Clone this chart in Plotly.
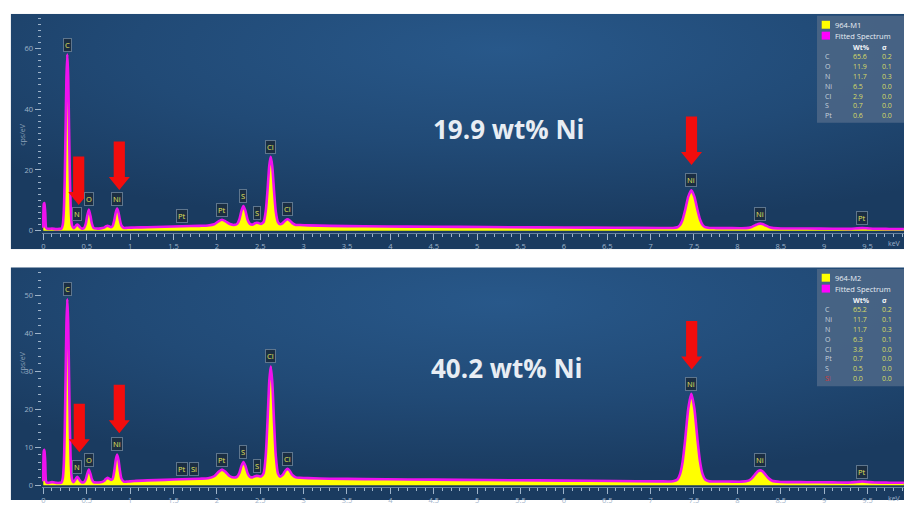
import base64
import plotly.graph_objects as go

W, H = 904, 505

# ---------------- data ----------------
energy_kev = [0.000, 0.006, 0.013, 0.022, 0.035, 0.06, 0.10, 0.15, 0.19, 0.21, 0.225, 0.237, 0.247, 0.257,
              0.267, 0.277, 0.287, 0.297, 0.307, 0.317, 0.33, 0.35, 0.37, 0.38, 0.392, 0.404, 0.415, 0.44,
              0.47, 0.49, 0.505, 0.525, 0.545, 0.56, 0.58, 0.61, 0.66, 0.70, 0.72, 0.74, 0.76, 0.78, 0.80,
              0.82, 0.835, 0.851, 0.867, 0.882, 0.90, 0.93, 0.97, 1.05, 1.2, 1.4, 1.6, 1.8, 1.9, 1.97, 2.02,
              2.06, 2.10, 2.15, 2.20, 2.235, 2.26, 2.285, 2.307, 2.33, 2.355, 2.38, 2.41, 2.44, 2.46, 2.48,
              2.51, 2.54, 2.565, 2.585, 2.605, 2.622, 2.64, 2.66, 2.68, 2.705, 2.73, 2.76, 2.79, 2.815, 2.84,
              2.87, 2.91, 2.96, 3.05, 3.3, 3.7, 4.2, 4.8, 5.4, 6.0, 6.6, 7.1, 7.26, 7.31, 7.34, 7.37, 7.40,
              7.435, 7.47, 7.505, 7.54, 7.57, 7.60, 7.63, 7.68, 7.75, 7.9, 8.05, 8.13, 8.17, 8.21, 8.24,
              8.264, 8.29, 8.32, 8.36, 8.40, 8.5, 8.8, 9.1, 9.3, 9.38, 9.44, 9.50, 9.58, 9.75, 9.92]

counts_m1 = [1.0, 8.8, 9.1, 6.0, 0.8, 0.6, 0.7, 0.5, 0.6, 0.7, 2.0, 6.8, 17.0, 33.5,
             50.6, 58.0, 50.6, 33.5, 17.0, 6.8, 1.8, 0.85, 1.4, 1.8, 2.05, 1.8, 1.4, 0.73,
             0.9, 2.3, 4.7, 7.0, 4.7, 2.3, 0.9, 0.7, 0.75, 1.0, 1.4, 1.65, 1.4, 1.13, 1.6,
             3.65, 6.0, 7.3, 6.0, 3.65, 1.7, 0.9, 0.95, 1.05, 1.15, 1.3, 1.45, 1.6, 1.7, 2.1, 3.1,
             3.6, 3.1, 2.2, 1.9, 2.25, 3.7, 6.6, 8.1, 6.5, 3.6, 2.3, 2.0, 2.45, 2.6, 2.5,
             2.25, 2.85, 6.6, 13.4, 21.4, 24.3, 21.0, 13.0, 6.3, 2.8, 2.1, 2.5, 3.35, 3.75, 3.35,
             2.5, 1.9, 1.85, 1.75, 1.6, 1.45, 1.35, 1.25, 1.15, 1.05, 0.95, 0.9, 0.9, 1.15, 1.9, 3.7, 6.9,
             11.2, 13.3, 11.2, 6.9, 3.7, 1.9, 1.15, 0.9, 0.86, 0.84, 0.82, 0.93, 1.27, 1.84, 2.22,
             2.33, 2.2, 1.81, 1.25, 0.92, 0.74, 0.7, 0.65, 0.6, 0.76, 0.85, 0.76, 0.62, 0.58, 0.56]

counts_m2 = [1.0, 9.0, 9.3, 6.2, 0.8, 0.6, 0.8, 0.6, 0.6, 0.7, 1.8, 5.8, 14.4, 28.4,
             42.7, 49.0, 42.7, 28.4, 14.4, 5.8, 1.6, 0.8, 1.45, 1.9, 2.2, 1.9, 1.45, 0.75,
             0.8, 1.55, 2.85, 4.1, 2.85, 1.55, 0.8, 0.7, 0.75, 1.1, 1.6, 1.95, 1.7, 1.4, 1.7,
             4.0, 6.65, 8.1, 6.65, 4.0, 1.75, 0.9, 0.95, 1.1, 1.25, 1.4, 1.55, 1.7, 1.8, 2.35, 3.5,
             4.1, 3.5, 2.35, 2.0, 2.25, 3.2, 5.1, 6.1, 5.05, 3.15, 2.2, 2.05, 2.35, 2.45, 2.4,
             2.3, 3.15, 8.05, 17.05, 27.4, 31.3, 27.0, 16.5, 7.7, 3.05, 2.25, 2.7, 3.8, 4.3, 3.8,
             2.7, 2.05, 1.95, 1.85, 1.7, 1.6, 1.5, 1.4, 1.3, 1.2, 1.1, 1.0, 1.03, 1.5, 2.9, 6.2, 12.2,
             20.2, 24.1, 20.2, 12.2, 6.2, 2.9, 1.5, 1.0, 0.97, 0.95, 0.92, 1.2, 1.85, 2.95, 3.7,
             3.9, 3.65, 2.9, 1.8, 1.17, 0.85, 0.78, 0.72, 0.68, 0.85, 0.95, 0.85, 0.7, 0.65, 0.62]

label_text_m1 = ["C", "N", "O", "Ni", "Pt", "Pt", "S", "S", "Cl", "Cl", "Ni", "Ni", "Pt"]
label_x_m1 = [0.277, 0.392, 0.525, 0.851, 1.60, 2.06, 2.307, 2.46, 2.622, 2.815, 7.47, 8.264, 9.44]
label_y_m1 = [58.0, 2.05, 7.0, 7.3, 1.45, 3.6, 8.1, 2.6, 24.3, 3.75, 13.3, 2.33, 0.85]

label_text_m2 = ["C", "N", "O", "Ni", "Pt", "Si", "Pt", "S", "S", "Cl", "Cl", "Ni", "Ni", "Pt"]
label_x_m2 = [0.277, 0.392, 0.525, 0.851, 1.60, 1.74, 2.06, 2.307, 2.46, 2.622, 2.815, 7.47, 8.264, 9.44]
label_y_m2 = [49.0, 2.2, 4.1, 8.1, 1.55, 1.65, 4.1, 6.1, 2.45, 31.3, 4.3, 24.1, 3.9, 0.95]

arrow_x_m1 = [0.408, 0.876, 7.472]
arrow_y_m1 = [8.5, 13.4, 21.6]
arrow_x_m2 = [0.415, 0.876, 7.474]
arrow_y_m2 = [8.7, 13.7, 30.5]

table_el_m1 = ["C", "O", "N", "Ni", "Cl", "S", "Pt"]
table_wt_m1 = ["65.6", "11.9", "11.7", "6.5", "2.9", "0.7", "0.6"]
table_sd_m1 = ["0.2", "0.1", "0.3", "0.0", "0.0", "0.0", "0.0"]

table_el_m2 = ["C", "Ni", "N", "O", "Cl", "Pt", "S", "Si"]
table_wt_m2 = ["65.2", "11.7", "11.7", "6.3", "3.8", "0.7", "0.5", "0.0"]
table_sd_m2 = ["0.2", "0.1", "0.3", "0.1", "0.0", "0.0", "0.0", "0.0"]

x_ticks = [0, 0.5, 1, 1.5, 2, 2.5, 3, 3.5, 4, 4.5, 5, 5.5, 6, 6.5, 7, 7.5, 8, 8.5, 9, 9.5]
x_tick_text = ["0", "0.5", "1", "1.5", "2", "2.5", "3", "3.5", "4", "4.5", "5", "5.5",
               "6", "6.5", "7", "7.5", "8", "8.5", "9", "9.5"]

# ---------------- styling helpers ----------------
def px(x):
    return x / W

def py(y):
    return 1 - y / H

TICK_C = "#9fb4ca"
FONT = "Open Sans"

svg = ("<svg xmlns='http://www.w3.org/2000/svg' width='894' height='238' preserveAspectRatio='none'>"
       "<defs><radialGradient id='g' cx='0.55' cy='0.15' r='0.75'>"
       "<stop offset='0' stop-color='#28588a'/><stop offset='0.55' stop-color='#214a76'/>"
       "<stop offset='1' stop-color='#1a3b60'/></radialGradient></defs>"
       "<rect width='894' height='238' fill='url(#g)'/></svg>")
bg_src = "data:image/svg+xml;base64," + base64.b64encode(svg.encode()).decode()

fig = go.Figure()

panels = [
    dict(xa="x", ya="y", counts=counts_m1, name="964-M1", top=14, bottom=251.7, ptop=14, pbot=235,
         y0px=233, ppu=3.067, yticks=[0, 20, 40, 60], lab=(label_text_m1, label_x_m1, label_y_m1),
         arr=(arrow_x_m1, arrow_y_m1), title="19.9 wt% Ni", tpos=(509, 130),
         tab=(table_el_m1, table_wt_m1, table_sd_m1), legtop=16, legbot=124, rows0=25),
    dict(xa="x2", ya="y2", counts=counts_m2, name="964-M2", top=270, bottom=505, ptop=270, pbot=492,
         y0px=490, ppu=3.83, yticks=[0, 10, 20, 30, 40, 50], lab=(label_text_m2, label_x_m2, label_y_m2),
         arr=(arrow_x_m2, arrow_y_m2), title="40.2 wt% Ni", tpos=(507, 371.7),
         tab=(table_el_m2, table_wt_m2, table_sd_m2), legtop=271.7, legbot=390, rows0=280.5),
]

x_left_px, x_right_px = 41.6, 904
kev_px = 86.75
zero_px = 43.3
xr = [(x_left_px - zero_px) / kev_px, (x_right_px - zero_px) / kev_px]

images, shapes, annotations = [], [], []

for i, p in enumerate(panels):
    xa, ya = p["xa"], p["ya"]
    fig.add_trace(go.Scatter(x=energy_kev, y=p["counts"], mode="lines", line=dict(color="#ffff00", width=1, shape="spline", smoothing=0.6),
                             fill="tozeroy", fillcolor="#ffff00", xaxis=xa, yaxis=ya, showlegend=False, hoverinfo="skip"))
    fig.add_trace(go.Scatter(x=energy_kev, y=p["counts"], mode="lines", line=dict(color="#ee11ee", width=2.6, shape="spline", smoothing=0.6),
                             xaxis=xa, yaxis=ya, showlegend=False, hoverinfo="skip"))

    images.append(dict(source=bg_src, xref="paper", yref="paper", x=px(10.7), y=py(p["top"]),
                       sizex=px(W - 10.7), sizey=(p["bottom"] - p["top"]) / H, xanchor="left", yanchor="top",
                       sizing="stretch", layer="below"))

    yr = [(p["y0px"] - p["pbot"]) / p["ppu"], (p["y0px"] - p["ptop"]) / p["ppu"]]
    xkey = "xaxis" if i == 0 else "xaxis2"
    ykey = "yaxis" if i == 0 else "yaxis2"
    fig.layout[xkey] = dict(domain=[px(x_left_px), 1], range=xr, anchor=ya, tickmode="array", tickvals=x_ticks,
                            ticktext=x_tick_text, ticks="outside", ticklen=6, tickcolor=TICK_C, tickwidth=1,
                            showgrid=False, zeroline=False, showline=True, linecolor="rgba(159,180,202,0.6)",
                            linewidth=1, tickfont=dict(family=FONT, size=7.5, color=TICK_C),
                            minor=dict(dtick=0.1, tick0=0, ticks="outside", ticklen=3, tickcolor=TICK_C, showgrid=False),
                            fixedrange=True)
    fig.layout[ykey] = dict(domain=[py(p["pbot"]), py(p["ptop"])], range=yr, anchor=xa, tickmode="array",
                            tickvals=p["yticks"], ticks="outside", ticklen=6, tickcolor=TICK_C, tickwidth=1,
                            showgrid=False, zeroline=False, showline=False,
                            tickfont=dict(family=FONT, size=7.5, color=TICK_C),
                            minor=dict(dtick=2, tick0=0, ticks="outside", ticklen=3, tickcolor=TICK_C, showgrid=False),
                            fixedrange=True)

    # element labels
    for t, lx, ly in zip(*p["lab"]):
        annotations.append(dict(x=lx, y=ly, xref=xa, yref=ya, text=t, showarrow=False, yanchor="bottom",
                                yshift=3, font=dict(family=FONT, size=7.5, color="#e3e35c"),
                                bgcolor="#1b2e42", bordercolor="#5f768d", borderwidth=1, borderpad=1))

    # red arrows
    for ax_, ay_ in zip(*p["arr"]):
        shapes.append(dict(type="path", xref=xa, yref=ya, xsizemode="pixel", ysizemode="pixel",
                           xanchor=ax_, yanchor=ay_,
                           path="M 0,0 L -10.5,13 L -5.6,13 L -5.6,48.5 L 5.6,48.5 L 5.6,13 L 10.5,13 Z",
                           fillcolor="#f20d0d", line=dict(width=0), layer="above"))

    # big caption
    annotations.append(dict(x=px(p["tpos"][0]), y=py(p["tpos"][1]), xref="paper", yref="paper", text=p["title"],
                            showarrow=False, xanchor="center", yanchor="middle",
                            font=dict(family=FONT, size=26, color="#e8edf3", weight="bold")))
    # y title
    mid = (p["ptop"] + p["y0px"]) / 2
    annotations.append(dict(x=px(16), y=py(mid), xref="paper", yref="paper", text="cps/eV", textangle=-90,
                            showarrow=False, font=dict(family=FONT, size=7, color="#8ea3ba")))
    # keV
    annotations.append(dict(x=px(903), y=py(p["pbot"] + 11), xref="paper", yref="paper", text="keV",
                            showarrow=False, xanchor="right", yanchor="middle",
                            font=dict(family=FONT, size=7, color=TICK_C)))

    # legend / table box
    shapes.append(dict(type="rect", xref="paper", yref="paper", x0=px(817), x1=1.0, y0=py(p["legbot"]),
                       y1=py(p["legtop"]), fillcolor="#4a6585", line=dict(width=0), layer="above", opacity=0.92))
    r0 = p["rows0"]
    shapes.append(dict(type="rect", xref="paper", yref="paper", x0=px(821.7), x1=px(830), y0=py(r0 + 4),
                       y1=py(r0 - 4), fillcolor="#ffff00", line=dict(width=0), layer="above"))
    shapes.append(dict(type="rect", xref="paper", yref="paper", x0=px(821.7), x1=px(830), y0=py(r0 + 15),
                       y1=py(r0 + 7), fillcolor="#ff00ff", line=dict(width=0), layer="above"))
    annotations.append(dict(x=px(833), y=py(r0), xref="paper", yref="paper", text=p["name"], showarrow=False,
                            xanchor="left", yanchor="middle", font=dict(family=FONT, size=7.5, color="#e8eef4")))
    annotations.append(dict(x=px(833), y=py(r0 + 11), xref="paper", yref="paper", text="Fitted Spectrum",
                            showarrow=False, xanchor="left", yanchor="middle",
                            font=dict(family=FONT, size=7.5, color="#e8eef4")))
    hy = r0 + 22.5
    annotations.append(dict(x=px(850.5), y=py(hy), xref="paper", yref="paper", text="<b>Wt%</b>", showarrow=False,
                            xanchor="left", yanchor="middle", font=dict(family=FONT, size=7, color="#f2f5f8")))
    annotations.append(dict(x=px(879.5), y=py(hy), xref="paper", yref="paper", text="<b>σ</b>", showarrow=False,
                            xanchor="left", yanchor="middle", font=dict(family=FONT, size=7, color="#f2f5f8")))
    els, wts, sds = p["tab"]
    for k, (e, w, s) in enumerate(zip(els, wts, sds)):
        ry = hy + 9.9 * (k + 1)
        ecol = "#c9d3de" if not (e == "Si" and i == 1) else "#d03a3a"
        annotations.append(dict(x=px(822.5), y=py(ry), xref="paper", yref="paper", text=e, showarrow=False,
                                xanchor="left", yanchor="middle", font=dict(family=FONT, size=7, color=ecol)))
        annotations.append(dict(x=px(850.5), y=py(ry), xref="paper", yref="paper", text=w, showarrow=False,
                                xanchor="left", yanchor="middle", font=dict(family=FONT, size=7, color="#d8dc66")))
        annotations.append(dict(x=px(879.5), y=py(ry), xref="paper", yref="paper", text=s, showarrow=False,
                                xanchor="left", yanchor="middle", font=dict(family=FONT, size=7, color="#d8dc66")))

fig.update_layout(width=W, height=H, margin=dict(l=0, r=0, t=0, b=0), paper_bgcolor="white",
                  plot_bgcolor="rgba(0,0,0,0)", images=images, shapes=shapes, annotations=annotations,
                  showlegend=False)

fig.write_html("out.html")
